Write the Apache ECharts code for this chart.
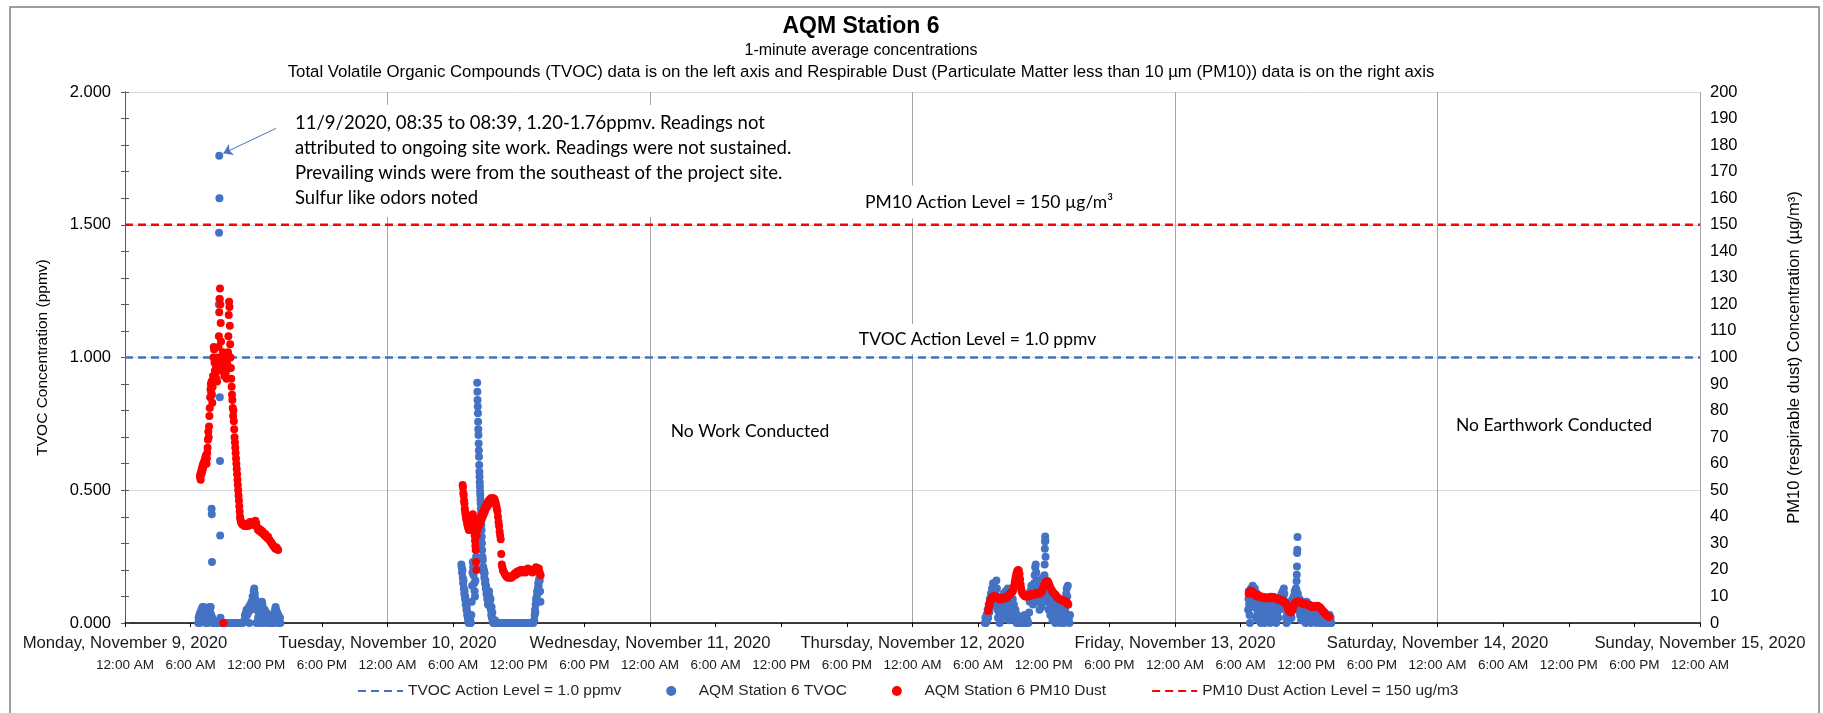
<!DOCTYPE html>
<html><head><meta charset="utf-8">
<script src="https://cdn.jsdelivr.net/npm/echarts@6/dist/echarts.min.js"></script>
<style>html,body{margin:0;padding:0;background:#fff}#c{width:1823px;height:713px}</style>
</head><body><div id="c"></div>
<script>
// ---------- tick labels / categories ----------
const dayLabels = ["Monday, November 9, 2020","Tuesday, November 10, 2020","Wednesday, November 11, 2020","Thursday, November 12, 2020","Friday, November 13, 2020","Saturday, November 14, 2020","Sunday, November 15, 2020"];
const hourLabels = ["12:00 AM","6:00 AM","12:00 PM","6:00 PM"];
const TVOC_ACTION = 1.0;
const PM10_ACTION = 150;

// ---------- TVOC (ppmv), [time of day, value] ----------
const tvocMon = [["06:42",0],["06:44",0.02],["06:46",0.01],["06:48",0.03],["06:50",0],["06:53",0.04],["06:56",0.02],["06:59",0.05],["07:02",0.03],["07:05",0.06],["07:08",0.04],["07:11",0.06],["07:14",0.05],["07:17",0.02],["07:20",0.04],["07:23",0],["07:26",0.03],["07:29",0.01],["07:32",0.02],["07:35",0],["07:38",0.03],["07:41",0.05],["07:44",0.06],["07:47",0.04],["07:50",0.06],["07:53",0.03],["07:55",0.43],["07:56",0.41],["07:57",0.23],["07:59",0.02],["08:02",0],["08:06",0.01],["08:10",0],["08:15",0],["08:20",0],["08:25",0],["08:30",0],["08:35",1.20],["08:36",1.47],["08:37",1.76],["08:38",1.60],["08:39",1.22],["08:40",0.85],["08:41",0.61],["08:42",0.33],["08:44",0.02],["08:47",0],["08:55",0],["09:05",0],["09:15",0],["09:25",0],["09:35",0],["09:45",0],["09:55",0],["10:05",0],["10:15",0],["10:25",0],["10:35",0],["10:45",0],["10:55",0.01],["10:58",0.03],["11:01",0.02],["11:04",0.04],["11:07",0.05],["11:10",0.03],["11:13",0.05],["11:16",0.04],["11:19",0.06],["11:22",0],["11:25",0.05],["11:28",0.07],["11:31",0.05],["11:34",0.08],["11:37",0.06],["11:40",0.1],["11:43",0.08],["11:46",0.12],["11:49",0.13],["11:52",0.11],["11:55",0.09],["11:58",0.06],["12:01",0],["12:04",0.07],["12:07",0.05],["12:10",0.02],["12:13",0.04],["12:16",0.06],["12:19",0],["12:22",0.05],["12:25",0.07],["12:28",0.06],["12:31",0.08],["12:34",0.07],["12:37",0.05],["12:40",0],["12:43",0.02],["12:46",0.05],["12:49",0.03],["12:52",0.01],["12:55",0.04],["12:58",0.02],["13:01",0],["13:04",0.02],["13:07",0.03],["13:10",0.01],["13:13",0],["13:16",0.02],["13:19",0],["13:22",0.01],["13:25",0],["13:28",0.03],["13:31",0.01],["13:34",0],["13:37",0.02],["13:40",0.04],["13:43",0.05],["13:46",0.06],["13:49",0.05],["13:52",0.03],["13:55",0.04],["13:58",0],["14:01",0.03],["14:04",0.01],["14:07",0],["14:10",0.02],["14:12",0]];

const tvocTue = [["06:45",0.22],["06:47",0.21],["06:49",0.19],["06:51",0.2],["06:53",0.17],["06:55",0.15],["06:57",0.16],["06:59",0.13],["07:01",0.11],["07:03",0.12],["07:05",0.09],["07:07",0.1],["07:09",0.07],["07:11",0.08],["07:13",0.05],["07:15",0.06],["07:17",0.03],["07:19",0.04],["07:21",0.02],["07:23",0.01],["07:25",0],["07:28",0.02],["07:31",0],["07:34",0.01],["07:37",0],["07:40",0.03],["07:42",0.08],["07:44",0.14],["07:46",0.19],["07:48",0.23],["07:50",0.21],["07:52",0.18],["07:54",0.2],["07:56",0.15],["07:58",0.12],["08:00",0.1],["08:02",0.16],["08:04",0.21],["08:06",0.25],["08:08",0.3],["08:10",0.33],["08:12",0.905],["08:13",0.871],["08:14",0.84],["08:15",0.815],["08:16",0.79],["08:17",0.758],["08:18",0.73],["08:19",0.708],["08:20",0.676],["08:21",0.65],["08:22",0.626],["08:23",0.595],["08:24",0.57],["08:25",0.551],["08:26",0.53],["08:27",0.513],["08:28",0.495],["08:29",0.482],["08:30",0.465],["08:31",0.45],["08:32",0.43],["08:33",0.413],["08:34",0.39],["08:35",0.37],["08:36",0.35],["08:37",0.325],["08:38",0.30],["08:39",0.275],["08:41",0.25],["08:43",0.237],["08:45",0.212],["08:47",0.19],["08:49",0.2],["08:51",0.17],["08:53",0.187],["08:55",0.15],["08:57",0.16],["08:59",0.13],["09:01",0.14],["09:03",0.11],["09:05",0.12],["09:07",0.09],["09:09",0.1],["09:11",0.07],["09:13",0.11],["09:15",0.08],["09:17",0.12],["09:19",0.1],["09:21",0.08],["09:23",0.06],["09:25",0.09],["09:27",0.05],["09:29",0.03],["09:31",0.06],["09:33",0.02],["09:35",0.04],["09:37",0.01],["09:40",0],["09:45",0],["09:50",0.01],["09:55",0],["10:00",0],["10:10",0],["10:20",0],["10:30",0],["10:40",0],["10:50",0],["11:00",0],["11:10",0],["11:20",0],["11:30",0],["11:40",0],["11:50",0],["12:00",0],["12:10",0],["12:20",0],["12:30",0],["12:40",0],["12:50",0],["13:00",0],["13:10",0],["13:20",0],["13:25",0.01],["13:27",0.03],["13:29",0.05],["13:31",0.04],["13:33",0.07],["13:35",0.09],["13:37",0.08],["13:39",0.1],["13:41",0.12],["13:43",0.11],["13:45",0.13],["13:47",0.15],["13:49",0.14],["13:51",0.16],["13:53",0.17],["13:55",0.16],["13:57",0.12],["13:59",0.08]];

const tvocThu = [["06:37",0],["06:40",0.02],["06:43",0],["06:46",0.03],["06:49",0.01],["06:52",0.05],["06:55",0.02],["06:58",0.07],["07:01",0.04],["07:04",0.09],["07:07",0.06],["07:10",0.11],["07:13",0.08],["07:16",0.13],["07:19",0.1],["07:22",0.15],["07:25",0.12],["07:28",0.14],["07:31",0.09],["07:34",0.12],["07:37",0.07],["07:40",0.16],["07:43",0.13],["07:46",0.05],["07:49",0.02],["07:52",0.08],["07:55",0.04],["07:58",0],["08:01",0.06],["08:04",0.09],["08:07",0.03],["08:10",0.07],["08:13",0.1],["08:16",0.05],["08:19",0.11],["08:22",0.08],["08:25",0.02],["08:28",0.06],["08:31",0.12],["08:34",0.09],["08:37",0.04],["08:40",0.1],["08:43",0.13],["08:46",0.07],["08:49",0.01],["08:52",0.05],["08:55",0.11],["08:58",0.08],["09:01",0.03],["09:04",0.12],["09:07",0.06],["09:10",0.09],["09:13",0.02],["09:16",0.07],["09:19",0.04],["09:22",0.01],["09:25",0.05],["09:28",0.02],["09:31",0],["09:35",0.03],["09:40",0],["09:45",0.02],["09:50",0],["09:55",0.01],["10:00",0],["10:05",0.02],["10:10",0],["10:15",0.03],["10:20",0],["10:25",0.02],["10:30",0.01],["10:35",0],["10:40",0.04],["10:43",0.08],["10:46",0.12],["10:49",0.1],["10:52",0.14],["10:55",0.09],["10:58",0.13],["11:01",0.07],["11:04",0.11],["11:07",0.15],["11:10",0.18],["11:13",0.21],["11:16",0.22],["11:19",0.19],["11:22",0.16],["11:25",0.12],["11:28",0.08],["11:31",0.13],["11:34",0.1],["11:37",0.05],["11:40",0.09],["11:43",0.14],["11:46",0.11],["11:49",0.06],["11:52",0.13],["11:55",0.17],["11:58",0.12],["12:01",0.09],["12:04",0.18],["12:05",0.22],["12:06",0.28],["12:07",0.307],["12:08",0.326],["12:09",0.31],["12:10",0.25],["12:12",0.16],["12:15",0.12],["12:18",0.08],["12:21",0.13],["12:24",0.1],["12:27",0.05],["12:30",0.12],["12:33",0.09],["12:36",0.03],["12:39",0.07],["12:42",0.11],["12:45",0.06],["12:48",0.01],["12:51",0.08],["12:54",0.04],["12:57",0.1],["13:00",0.06],["13:03",0],["13:06",0.05],["13:09",0.09],["13:12",0.03],["13:15",0.07],["13:18",0.02],["13:21",0.06],["13:24",0.01],["13:27",0.04],["13:30",0],["13:33",0.03],["13:36",0.06],["13:39",0.02],["13:42",0.05],["13:45",0.01],["13:48",0.03],["13:51",0],["13:54",0.02],["13:57",0.05],["14:00",0.08],["14:03",0.11],["14:06",0.13],["14:09",0.1],["14:12",0.14],["14:15",0.07],["14:18",0.02],["14:21",0],["14:24",0.03]];

const tvocFri = [["06:41",0.05],["06:43",0.09],["06:45",0.12],["06:47",0.07],["06:49",0.03],["06:51",0],["06:54",0.1],["06:57",0.13],["07:00",0.08],["07:03",0.11],["07:06",0.14],["07:09",0.12],["07:12",0.06],["07:15",0.1],["07:18",0.13],["07:21",0.09],["07:24",0.02],["07:27",0.07],["07:30",0.11],["07:33",0.04],["07:36",0.08],["07:39",0.01],["07:42",0.06],["07:45",0.03],["07:48",0.09],["07:51",0],["07:54",0.05],["07:57",0.08],["08:00",0.02],["08:03",0.06],["08:06",0.09],["08:09",0.04],["08:12",0],["08:15",0.07],["08:18",0.03],["08:21",0.08],["08:24",0.05],["08:27",0.01],["08:30",0.06],["08:33",0.09],["08:36",0.03],["08:39",0.07],["08:42",0],["08:45",0.05],["08:48",0.08],["08:51",0.02],["08:54",0.06],["08:57",0.04],["09:00",0.09],["09:03",0.01],["09:06",0.05],["09:09",0.07],["09:12",0.03],["09:15",0],["09:18",0.06],["09:21",0.04],["09:24",0.08],["09:27",0.02],["09:30",0.05],["09:33",0.09],["09:36",0.06],["09:39",0.1],["09:42",0.07],["09:45",0.11],["09:48",0.09],["09:51",0.12],["09:54",0.1],["09:57",0.13],["10:00",0.11],["10:03",0.08],["10:06",0.05],["10:09",0.02],["10:12",0],["10:15",0.04],["10:18",0.07],["10:21",0.03],["10:24",0.06],["10:27",0.01],["10:30",0.05],["10:33",0.08],["10:36",0.04],["10:39",0.02],["10:42",0.06],["10:45",0.09],["10:48",0.05],["10:51",0.1],["10:54",0.07],["10:57",0.12],["11:00",0.09],["11:03",0.13],["11:06",0.125],["11:07",0.157],["11:08",0.182],["11:09",0.213],["11:10",0.264],["11:11",0.276],["11:12",0.324],["11:14",0.11],["11:17",0.08],["11:20",0.05],["11:23",0.09],["11:26",0.03],["11:29",0.07],["11:32",0.01],["11:35",0.05],["11:38",0.08],["11:41",0.04],["11:44",0.06],["11:47",0.02],["11:50",0.07],["11:53",0.03],["11:56",0],["11:59",0.05],["12:02",0.08],["12:05",0.04],["12:08",0.06],["12:11",0.01],["12:14",0.04],["12:17",0.07],["12:20",0.03],["12:23",0.05],["12:26",0],["12:29",0.04],["12:32",0.06],["12:35",0.02],["12:38",0.05],["12:41",0.01],["12:44",0.03],["12:47",0.06],["12:50",0.02],["12:53",0.04],["12:56",0],["12:59",0.03],["13:02",0.05],["13:05",0.01],["13:08",0.04],["13:11",0.02],["13:14",0.05],["13:17",0],["13:20",0.03],["13:23",0.01],["13:26",0.04],["13:29",0.02],["13:32",0],["13:35",0.03],["13:38",0.01],["13:41",0.04],["13:44",0.02],["13:47",0],["13:50",0.03],["13:53",0.01],["13:56",0.02],["13:59",0],["14:02",0.02],["14:05",0.01],["14:08",0.03],["14:11",0],["14:14",0.02],["14:17",0]];

// ---------- PM10 (µg/m3), [time of day, value] ----------
const pm10Mon = [["06:51",55],["06:53",56],["06:55",54],["06:57",57],["06:59",56],["07:01",58],["07:03",57],["07:05",59],["07:07",58],["07:09",60],["07:11",59],["07:13",60],["07:15",61],["07:17",60],["07:19",62],["07:21",61],["07:23",63],["07:25",62],["07:27",60],["07:29",62],["07:31",64],["07:33",66],["07:35",69],["07:37",72],["07:39",70],["07:41",74],["07:43",78],["07:45",81],["07:47",85],["07:49",88],["07:51",90],["07:53",87],["07:55",91],["07:57",86],["07:59",83],["08:01",89],["08:03",93],["08:05",100],["08:07",104],["08:09",103],["08:11",98],["08:13",95],["08:15",99],["08:17",94],["08:19",97],["08:21",92],["08:23",95],["08:25",91],["08:27",96],["08:29",100],["08:31",97],["08:33",104],["08:35",108],["08:37",117],["08:39",122],["08:41",126],["08:43",120],["08:45",113],["08:47",106],["08:49",100],["08:51",97],["08:53",95],["08:55",99],["08:57",102],["08:59",98],["09:00",0],["09:01",95],["09:03",97],["09:05",93],["09:07",96],["09:09",100],["09:11",94],["09:13",98],["09:15",95],["09:17",92],["09:19",96],["09:21",99],["09:23",97],["09:25",102],["09:27",108],["09:29",116],["09:31",121],["09:33",119],["09:35",112],["09:37",105],["09:39",100],["09:41",96],["09:43",92],["09:45",89],["09:47",86],["09:49",84],["09:51",81],["09:53",78],["09:55",80],["09:57",76],["09:59",73],["10:01",70],["10:03",68],["10:05",66],["10:07",64],["10:09",62],["10:11",60],["10:13",58],["10:15",56],["10:17",54],["10:19",52],["10:21",50],["10:23",48],["10:25",46],["10:27",44],["10:29",42],["10:31",40],["10:33",39],["10:36",38],["10:40",37.5],["10:45",37],["10:50",37.5],["10:55",36.5],["11:00",37],["11:05",36.5],["11:10",37],["11:15",36.5],["11:20",37.5],["11:25",38],["11:30",37],["11:35",37.5],["11:40",38],["11:45",37],["11:50",38],["11:55",38.5],["12:00",37.5],["12:05",36],["12:10",35],["12:15",35.5],["12:20",34.5],["12:25",35],["12:30",34],["12:35",34.5],["12:40",33.5],["12:45",33],["12:50",33.5],["12:55",32.5],["13:00",32],["13:05",32.5],["13:10",31.5],["13:15",31],["13:20",30.5],["13:25",30],["13:30",29.5],["13:35",29],["13:40",28.5],["13:45",28],["13:50",28.5],["13:55",28],["14:00",27.5]];

const pm10Tue = [["06:52",52],["06:54",51],["06:56",49],["06:58",48],["07:00",46],["07:02",45],["07:04",43],["07:06",42],["07:08",41],["07:10",40],["07:12",39],["07:14",40],["07:16",38],["07:18",37],["07:20",38],["07:22",36],["07:24",37],["07:26",35],["07:28",36],["07:30",37],["07:32",38],["07:34",36],["07:36",37],["07:38",35],["07:40",36],["07:42",38],["07:44",40],["07:46",39],["07:48",41],["07:50",40],["07:52",38],["07:54",36],["07:56",35],["07:58",33],["08:00",31],["08:02",29],["08:04",27.5],["08:06",23],["08:08",20],["08:10",33],["08:12",35],["08:14",36],["08:16",37],["08:18",36],["08:20",37.5],["08:22",38],["08:24",37],["08:26",38.5],["08:28",39],["08:30",38],["08:32",39.5],["08:34",40],["08:36",39],["08:38",40.5],["08:40",41],["08:42",40],["08:44",41.5],["08:46",42],["08:48",41],["08:50",42.5],["08:52",43],["08:54",42],["08:56",43.5],["08:58",44],["09:00",43],["09:03",44.5],["09:06",45],["09:09",44],["09:12",45.5],["09:15",46],["09:18",45],["09:21",46.5],["09:24",46],["09:27",47],["09:30",46.5],["09:33",47],["09:36",46],["09:39",46.5],["09:42",47],["09:45",46],["09:48",46.5],["09:51",45.5],["09:54",45],["09:57",44],["10:00",43],["10:03",42],["10:06",40],["10:09",38],["10:12",36.5],["10:15",34.5],["10:18",33],["10:21",31.5],["10:24",26],["10:27",22],["10:30",21],["10:33",20],["10:36",19.5],["10:40",19],["10:44",18.5],["10:48",18],["10:52",17.5],["10:56",17.5],["11:00",17],["11:05",17.5],["11:10",17],["11:15",17.5],["11:20",17],["11:25",17.5],["11:30",18],["11:35",18.5],["11:40",18],["11:45",19],["11:50",18.5],["11:55",19.5],["12:00",19],["12:05",19.5],["12:10",20],["12:15",19],["12:20",20],["12:25",19.5],["12:30",20],["12:35",19],["12:40",19.5],["12:45",20],["12:50",20.5],["12:55",19.5],["13:00",20],["13:05",19.5],["13:10",20],["13:15",19],["13:20",19.5],["13:25",20],["13:30",20.5],["13:35",21],["13:40",20.5],["13:45",19.5],["13:50",20.5],["13:55",19],["14:00",18]];

const pm10Thu = [["06:55",4.5],["06:58",5.5],["07:01",6.5],["07:04",7.5],["07:07",8.2],["07:10",8.8],["07:13",9.3],["07:16",9.6],["07:20",10],["07:24",9.8],["07:28",10.2],["07:33",9.8],["07:38",9.5],["07:43",9.8],["07:48",9.3],["07:53",9],["07:58",9.2],["08:03",8.8],["08:08",9],["08:13",9.4],["08:18",9.1],["08:23",9.6],["08:28",9.3],["08:33",9.8],["08:38",9.5],["08:43",10],["08:48",10.4],["08:53",10.8],["08:58",11.2],["09:03",11.5],["09:08",11.8],["09:13",12.5],["09:17",14],["09:21",15.5],["09:25",17],["09:29",18.5],["09:34",19.5],["09:39",20],["09:43",19.8],["09:47",18.5],["09:50",16.5],["09:53",14.5],["09:56",13],["09:59",12],["10:02",11.3],["10:06",10.8],["10:10",10.5],["10:15",10.2],["10:20",10],["10:25",10.3],["10:30",10],["10:35",10.5],["10:40",10.2],["10:45",10.8],["10:50",10.4],["10:55",10.9],["11:00",10.6],["11:05",11],["11:10",10.7],["11:15",11.2],["11:20",10.8],["11:25",11.3],["11:30",11],["11:35",11.5],["11:40",11.2],["11:45",11.6],["11:50",12],["11:55",13],["12:00",14],["12:05",14.8],["12:10",15.3],["12:15",15.6],["12:20",15.8],["12:25",15.3],["12:30",14.5],["12:35",13.6],["12:40",12.8],["12:45",12.2],["12:50",11.6],["12:55",11.2],["13:00",10.8],["13:05",10.5],["13:10",10],["13:15",9.6],["13:20",9.3],["13:25",9],["13:30",8.8],["13:35",8.6],["13:40",8.8],["13:45",8.5],["13:50",8.2],["13:55",8.4],["14:00",8],["14:05",7.8],["14:10",7.5],["14:13",7]];

const pm10Fri = [["06:44",11],["06:47",11.5],["06:50",12],["06:53",11.8],["06:56",12.2],["06:59",11.5],["07:02",11.8],["07:05",11.2],["07:08",11.5],["07:11",10.9],["07:14",11.2],["07:17",10.6],["07:20",10.9],["07:23",10.4],["07:26",10.7],["07:29",10.2],["07:32",10.5],["07:35",10],["07:40",10.3],["07:45",9.8],["07:50",10],["07:55",9.6],["08:00",9.9],["08:05",9.4],["08:10",9.7],["08:15",9.3],["08:20",9.5],["08:25",9.2],["08:30",9.6],["08:35",9.4],["08:40",9.8],["08:45",9.5],["08:50",9.9],["08:55",9.6],["09:00",9.8],["09:05",9.3],["09:10",9.5],["09:15",9],["09:20",9.2],["09:25",8.8],["09:30",9],["09:35",8.6],["09:40",8.8],["09:45",8.3],["09:50",8.5],["09:55",8],["10:00",7.8],["10:05",7.5],["10:10",7.2],["10:15",6.5],["10:20",5.5],["10:25",4.6],["10:30",4.2],["10:35",4],["10:40",4.3],["10:45",5],["10:50",6.2],["10:55",7],["11:00",7.5],["11:05",7.8],["11:10",8],["11:15",8.2],["11:20",8],["11:25",7.8],["11:30",7.6],["11:35",7.5],["11:40",7.3],["11:45",7.1],["11:50",7.4],["11:55",7],["12:00",7.2],["12:05",6.9],["12:10",7],["12:15",6.7],["12:20",6.5],["12:25",6.2],["12:30",6.4],["12:35",6],["12:40",6.3],["12:45",6.1],["12:50",6.4],["12:55",6.2],["13:00",6.5],["13:05",6.3],["13:10",6.1],["13:15",5.8],["13:20",5.5],["13:25",5],["13:30",4.6],["13:35",4.2],["13:40",3.8],["13:45",3.4],["13:50",3],["13:55",2.7],["14:00",2.5],["14:05",2.3]];

// ---------- build ----------
const AR = '"Liberation Sans", Arial, sans-serif';
const CAL = 'Lato, "Open Sans", sans-serif';
function toHours(list, dayIndex) {
  return list.map(function (p) {
    const hm = p[0].split(':').map(Number);
    return [dayIndex * 24 + hm[0] + hm[1] / 60, p[1]];
  });
}
const tvocData = [].concat(toHours(tvocMon, 0), toHours(tvocTue, 1), toHours(tvocThu, 3), toHours(tvocFri, 4));
const pm10Data = [].concat(toHours(pm10Mon, 0), toHours(pm10Tue, 1), toHours(pm10Thu, 3), toHours(pm10Fri, 4));
const xMax = (dayLabels.length - 1) * 24;

function txt(text, x, y, font, extra) {
  return {type: 'text', x: x, y: y, z: 100, silent: true,
    style: Object.assign({text: text, font: font, fill: '#000', align: 'center', verticalAlign: 'middle',
      textAlign: 'center', textVerticalAlign: 'middle'}, extra || {})};
}

const chart = echarts.init(document.getElementById('c'), null, {renderer: 'canvas'});
chart.setOption({
  animation: false,
  backgroundColor: '#fff',
  grid: {left: 125, right: 123, top: 92, bottom: 90, containLabel: false},
  xAxis: [
    {type: 'value', min: 0, max: xMax, interval: 6, position: 'bottom',
      axisLine: {show: true, onZero: false, lineStyle: {color: '#000', width: 1.5}},
      axisTick: {show: true, length: 4, lineStyle: {color: '#000'}},
      axisLabel: {margin: 35, fontSize: 13.5, fontFamily: AR, color: '#1a1a1a', showMinLabel: true, showMaxLabel: true,
        formatter: function (v) { return hourLabels[Math.round(v / 6) % 4]; }},
      splitLine: {show: false}},
    {type: 'value', min: 0, max: xMax, interval: 24, position: 'bottom',
      axisLine: {show: false, onZero: false}, axisTick: {show: false},
      axisLabel: {margin: 12, fontSize: 16.7, fontFamily: AR, color: '#1a1a1a', showMinLabel: true, showMaxLabel: true,
        formatter: function (v) { return dayLabels[Math.round(v / 24)]; }},
      splitLine: {show: true, lineStyle: {color: '#A6A6A6', width: 1}}}
  ],
  yAxis: [
    {type: 'value', min: 0, max: 2, interval: 0.5, position: 'left',
      name: 'TVOC Concentration (ppmv)', nameLocation: 'middle', nameGap: 74, nameRotate: 90,
      nameTextStyle: {fontSize: 15.5, fontFamily: AR, color: '#000'},
      axisLine: {show: true, lineStyle: {color: '#595959', width: 1}},
      axisTick: {show: true, length: 4, lineStyle: {color: '#595959'}},
      minorTick: {show: true, splitNumber: 5, length: 4, lineStyle: {color: '#595959'}},
      axisLabel: {margin: 14, fontSize: 16.5, fontFamily: AR, color: '#000',
        formatter: function (v) { return v.toFixed(3); }},
      splitLine: {show: true, lineStyle: {color: '#D9D9D9', width: 1}}},
    {type: 'value', min: 0, max: 200, interval: 10, position: 'right',
      name: 'PM10 (respirable dust) Concentration (µg/m³)', nameLocation: 'middle', nameGap: 86, nameRotate: 90,
      nameTextStyle: {fontSize: 16.5, fontFamily: AR, color: '#000'},
      axisLine: {show: true, lineStyle: {color: '#595959', width: 1}},
      axisTick: {show: true, length: 4, lineStyle: {color: '#595959'}},
      axisLabel: {margin: 10, fontSize: 16.5, fontFamily: AR, color: '#000'},
      splitLine: {show: false}}
  ],
  legend: {
    top: 678, left: 352, itemWidth: 45, itemHeight: 10, itemGap: 45,
    textStyle: {fontSize: 15.5, fontFamily: AR, color: '#262626'},
    data: [
      {name: 'TVOC Action Level = 1.0 ppmv', itemStyle: {opacity: 0}},
      {name: 'AQM Station 6 TVOC'},
      {name: 'AQM Station 6 PM10 Dust'},
      {name: 'PM10 Dust Action Level = 150 ug/m3', itemStyle: {opacity: 0}}
    ]
  },
  series: [
    {name: 'TVOC Action Level = 1.0 ppmv', type: 'line', xAxisIndex: 0, yAxisIndex: 0, z: 2,
      data: [[0, TVOC_ACTION], [xMax, TVOC_ACTION]], symbol: 'none', silent: true,
      itemStyle: {color: '#4472C4'}, lineStyle: {color: '#4472C4', width: 2.5, type: [8, 5]}},
    {name: 'AQM Station 6 TVOC', type: 'scatter', xAxisIndex: 0, yAxisIndex: 0, z: 3,
      data: tvocData, symbol: 'circle', symbolSize: 8, itemStyle: {color: '#4472C4', opacity: 1},
      markLine: {silent: true, animation: false, symbol: ['none', 'arrow'], symbolSize: 9,
        lineStyle: {color: '#4472C4', width: 1, type: 'solid'}, label: {show: false},
        data: [[{coord: [13.81, 1.863]}, {coord: [8.99, 1.769]}]]}},
    {name: 'AQM Station 6 PM10 Dust', type: 'scatter', xAxisIndex: 0, yAxisIndex: 1, z: 4,
      data: pm10Data, symbol: 'circle', symbolSize: 8, itemStyle: {color: '#FF0000', opacity: 1}},
    {name: 'PM10 Dust Action Level = 150 ug/m3', type: 'line', xAxisIndex: 0, yAxisIndex: 1, z: 2,
      data: [[0, PM10_ACTION], [xMax, PM10_ACTION]], symbol: 'none', silent: true,
      itemStyle: {color: '#FF0000'}, lineStyle: {color: '#FF0000', width: 2.5, type: [8, 5]}}
  ],
  graphic: {elements: [
    {type: 'rect', silent: true, z: -10, shape: {x: 10, y: 7, width: 1809, height: 730},
      style: {fill: 'none', stroke: '#7f7f7f', lineWidth: 1.5}},
    txt('AQM Station 6', 861, 27, 'bold 23px ' + AR),
    txt('1-minute average concentrations', 861, 51, '16px ' + AR),
    txt('Total Volatile Organic Compounds (TVOC) data is on the left axis and Respirable Dust (Particulate Matter less than 10 µm (PM10)) data is on the right axis', 861, 72, '16.8px ' + AR),
    txt('11/9/2020, 08:35 to 08:39, 1.20-1.76ppmv. Readings not\nattributed to ongoing site work. Readings were not sustained.\nPrevailing winds were from the southeast of the project site.\nSulfur like odors noted',
      285, 105, '18.5px ' + CAL, {align: 'left', textAlign: 'left', verticalAlign: 'top', textVerticalAlign: 'top',
        lineHeight: 25, backgroundColor: '#fff', padding: [6, 8, 6, 10]}),
    txt('PM10 Action Level = 150 µg/m³', 989, 202, '17.5px ' + CAL, {backgroundColor: '#fff', padding: [9, 6, 6, 6]}),
    txt('TVOC Action Level = 1.0 ppmv', 977.5, 339, '17.5px ' + CAL, {backgroundColor: '#fff', padding: [7, 6, 5, 6]}),
    txt('No Work Conducted', 750, 431, '17.5px ' + CAL),
    txt('No Earthwork Conducted', 1554, 425.5, '17.5px ' + CAL)
  ]}
});
</script></body></html>
